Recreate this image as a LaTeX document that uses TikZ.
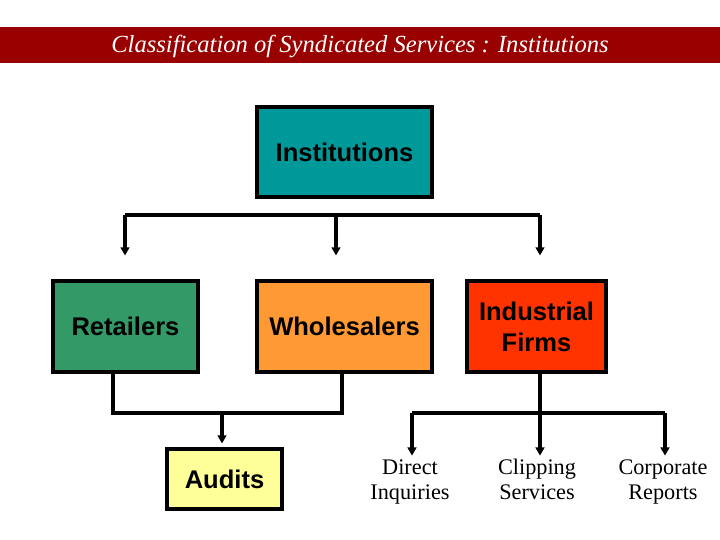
\documentclass[tikz,border=0pt]{standalone}
\usepackage{fontspec}
\setmainfont{Liberation Serif}
\setsansfont{Liberation Sans}
\usetikzlibrary{arrows.meta}

\definecolor{barred}{RGB}{153,0,0}
\definecolor{teal}{RGB}{0,153,153}
\definecolor{seagreen}{RGB}{51,153,102}
\definecolor{lightorange}{RGB}{255,153,51}
\definecolor{redorange}{RGB}{255,51,0}
\definecolor{paleyellow}{RGB}{255,255,153}

\begin{document}
\begin{tikzpicture}[x=0.03cm,y=-0.03cm,
  box/.style={draw=black,line width=2.6pt,align=center,inner sep=0pt,
    font=\sffamily\bfseries\fontsize{21.8}{26.4}\selectfont},
  leaf/.style={align=center,inner sep=1pt,font=\fontsize{19}{21.3}\selectfont},
  link/.style={line width=2.6pt},
  arr/.style={line width=2.6pt,-{Triangle[length=7pt,width=7.5pt]}}]
\useasboundingbox (0,0) rectangle (720,540);

% title bar
\fill[barred] (0,27) rectangle (720,63);
\node[text=white,font=\itshape\fontsize{21}{23}\selectfont] (title) at (360,46)
  {Classification of Syndicated Services : Institutions};

% boxes
\node[box,fill=teal,minimum width=5.25cm,minimum height=2.7cm] (inst) at (344.5,152) {Institutions};
\node[box,fill=seagreen,minimum width=4.35cm,minimum height=2.73cm] (ret) at (125.5,326.5) {Retailers};
\node[box,fill=lightorange,minimum width=5.25cm,minimum height=2.73cm] (whole) at (344.5,326.5) {Wholesalers};
\node[box,fill=redorange,minimum width=4.17cm,minimum height=2.73cm] (ind) at (536.5,326.5) {Industrial\\Firms};
\node[box,fill=paleyellow,minimum width=3.45cm,minimum height=1.8cm] (aud) at (224.5,479) {Audits};

% leaves
\node[leaf] (dir) at (410,482) {Direct\strut\\Inquiries\strut};
\node[leaf] (clip) at (537,482) {Clipping\strut\\Services\strut};
\node[leaf] (corp) at (663,482) {Corporate\strut\\Reports\strut};

% junctions
\coordinate (bl) at (125,215);
\coordinate (bm) at (336,215);
\coordinate (br) at (540,215);
\coordinate (rj) at (113,413);
\coordinate (wj) at (342,413);
\coordinate (aj) at (222,413);
\coordinate (dj) at (412,413);
\coordinate (ij) at (540,413);
\coordinate (cj) at (665,413);

% institutions level
\draw[link] (bl) -- (br);
\draw[arr,shorten >=0.72cm] (bl) -- (bl |- ret.north);
\draw[arr,shorten >=0.72cm] (bm) -- (bm |- whole.north);
\draw[arr,shorten >=0.72cm] (br) -- (br |- ind.north);

% retailers and wholesalers
\draw[link] (ret.south -| rj) -- (rj) -- (wj) -- (whole.south -| wj);
\draw[arr,shorten >=0.12cm] (aj) -- (aj |- aud.north);

% industrial firms
\draw[link] (ind.south -| ij) -- (ij);
\draw[link] (dj) -- (cj);
\draw[arr] (dj) -- (dj |- dir.north);
\draw[arr] (ij) -- (ij |- clip.north);
\draw[arr] (cj) -- (cj |- corp.north);
\end{tikzpicture}
\end{document}
